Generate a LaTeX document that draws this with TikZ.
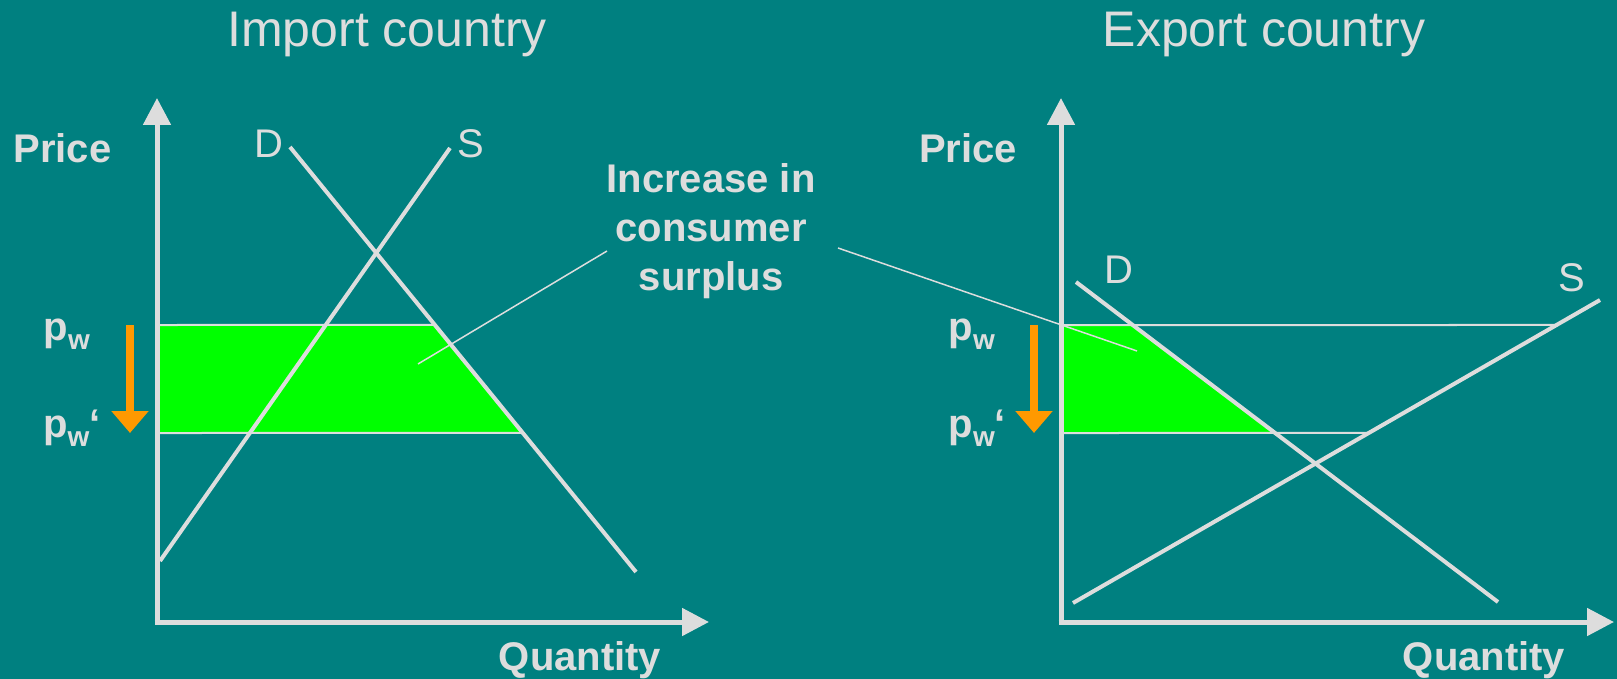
\documentclass[tikz,border=0pt]{standalone}
\usepackage{fontspec}
\setmainfont{Liberation Sans}
\usetikzlibrary{arrows.meta,calc}
\definecolor{bg}{HTML}{008080}
\definecolor{fg}{HTML}{DDDDDD}
\definecolor{grn}{HTML}{00FF00}
\definecolor{org}{HTML}{FF9900}
\newcommand\pwsub{p\raisebox{-9pt}{\fontsize{28}{28}\selectfont w}}
\begin{document}
\begin{tikzpicture}[x=1pt,y=-1pt,
 axis/.style={draw=fg,line width=5pt,-{Triangle[length=27pt,width=27pt]}},
 curve/.style={draw=fg,line width=4pt},
 level/.style={draw=fg,line width=2pt},
 callout/.style={draw=fg,line width=1.5pt},
 shiftarrow/.style={draw=org,line width=8pt,-{Triangle[length=22pt,width=36pt]}},
 area/.style={fill=grn},
 title/.style={text=fg,font=\fontsize{50}{60}\selectfont,anchor=base,inner sep=0pt},
 lbl/.style={text=fg,font=\fontsize{40}{48}\selectfont,anchor=base,inner sep=0pt},
 blbl/.style={text=fg,font=\fontsize{40}{48}\selectfont\bfseries,anchor=base,inner sep=0pt},
 plbl/.style={text=fg,font=\fontsize{40}{48}\selectfont\bfseries,anchor=base west,inner sep=0pt},
]
\fill[bg] (0,0) rectangle (1617,679);
\useasboundingbox (0,0) rectangle (1617,679);

% ---------- left (import) ----------
\coordinate (LYb) at (157,624.5);
\coordinate (LYt) at (157,98);
\coordinate (LXb) at (154.5,622);
\coordinate (LXt) at (709,622);
\coordinate (LD1) at (290,147);
\coordinate (LD2) at (636,572);
\coordinate (LS1) at (160,561);
\coordinate (LS2) at (450,148);
\coordinate (LA) at (157,325);
\coordinate (LB) at (157,433);
\coordinate (LDa) at ($(LD1)!0.4188!(LD2)$);
\coordinate (LDb) at ($(LD1)!0.6729!(LD2)$);
\fill[area] (LA) -- (LDa) -- (LDb) -- (LB) -- cycle;
\draw[level] (LA) -- (LDa);
\draw[level] (LB) -- (LDb);
\draw[curve] (LD1) -- (LD2);
\draw[curve] (LS1) -- (LS2);
\draw[axis] (LYb) -- (LYt);
\draw[axis] (LXb) -- (LXt);
\coordinate (LArr1) at (130,325);
\coordinate (LArr2) at (130,433);
\draw[shiftarrow] (LArr1) -- (LArr2);

% ---------- right (export) ----------
\coordinate (RYb) at (1061,624.5);
\coordinate (RYt) at (1061,98);
\coordinate (RXb) at (1058.5,622);
\coordinate (RXt) at (1614,622);
\coordinate (RD1) at (1076,282);
\coordinate (RD2) at (1498,602);
\coordinate (RS1) at (1073,603);
\coordinate (RS2) at (1600,300);
\coordinate (RA) at (1061,325);
\coordinate (RB) at (1061,433);
\coordinate (RDa) at ($(RD1)!0.1344!(RD2)$);
\coordinate (RDb) at ($(RD1)!0.4719!(RD2)$);
\coordinate (RSa) at ($(RS1)!0.9175!(RS2)$);
\coordinate (RSb) at ($(RS1)!0.5611!(RS2)$);
\fill[area] (RA) -- (RDa) -- (RDb) -- (RB) -- cycle;
\draw[level] (RA) -- (RSa);
\draw[level] (RB) -- (RSb);
\draw[curve] (RD1) -- (RD2);
\draw[curve] (RS1) -- (RS2);
\draw[axis] (RYb) -- (RYt);
\draw[axis] (RXb) -- (RXt);
\coordinate (RArr1) at (1034,325);
\coordinate (RArr2) at (1034,433);
\draw[shiftarrow] (RArr1) -- (RArr2);

% ---------- texts ----------
\node[title] (t1) at (387,47) {Import country};
\node[title] (t2) at (1264,47) {Export country};
\node[blbl] (pl) at (62.5,163) {Price};
\node[blbl] (pr) at (968,163) {Price};
\node[lbl] (dl) at (269,158) {D};
\node[lbl] (sl) at (471,158) {S};
\node[lbl] (dr) at (1119,283) {D};
\node[lbl] (sr) at (1572,291) {S};
\node[plbl] (pwl) at (43.5,340) {\pwsub};
\node[plbl] (pwl2) at (43,437) {\pwsub‘};
\node[plbl] (pwr) at (948.5,340) {\pwsub};
\node[plbl] (pwr2) at (948.5,437) {\pwsub‘};
\node[blbl] (ql) at (580,670) {Quantity};
\node[blbl] (qr) at (1484,670) {Quantity};
\node[blbl] (cs1) at (711,193) {Increase in};
\node[blbl] (cs2) at (711,242) {consumer};
\node[blbl] (cs3) at (711,290) {surplus};

% ---------- callouts ----------
\coordinate (CL1) at (607,251);
\coordinate (CL2) at (418,364);
\coordinate (CR1) at (838,248);
\coordinate (CR2) at (1137,351);
\draw[callout] (CL1) -- (CL2);
\draw[callout] (CR1) -- (CR2);
\end{tikzpicture}
\end{document}
